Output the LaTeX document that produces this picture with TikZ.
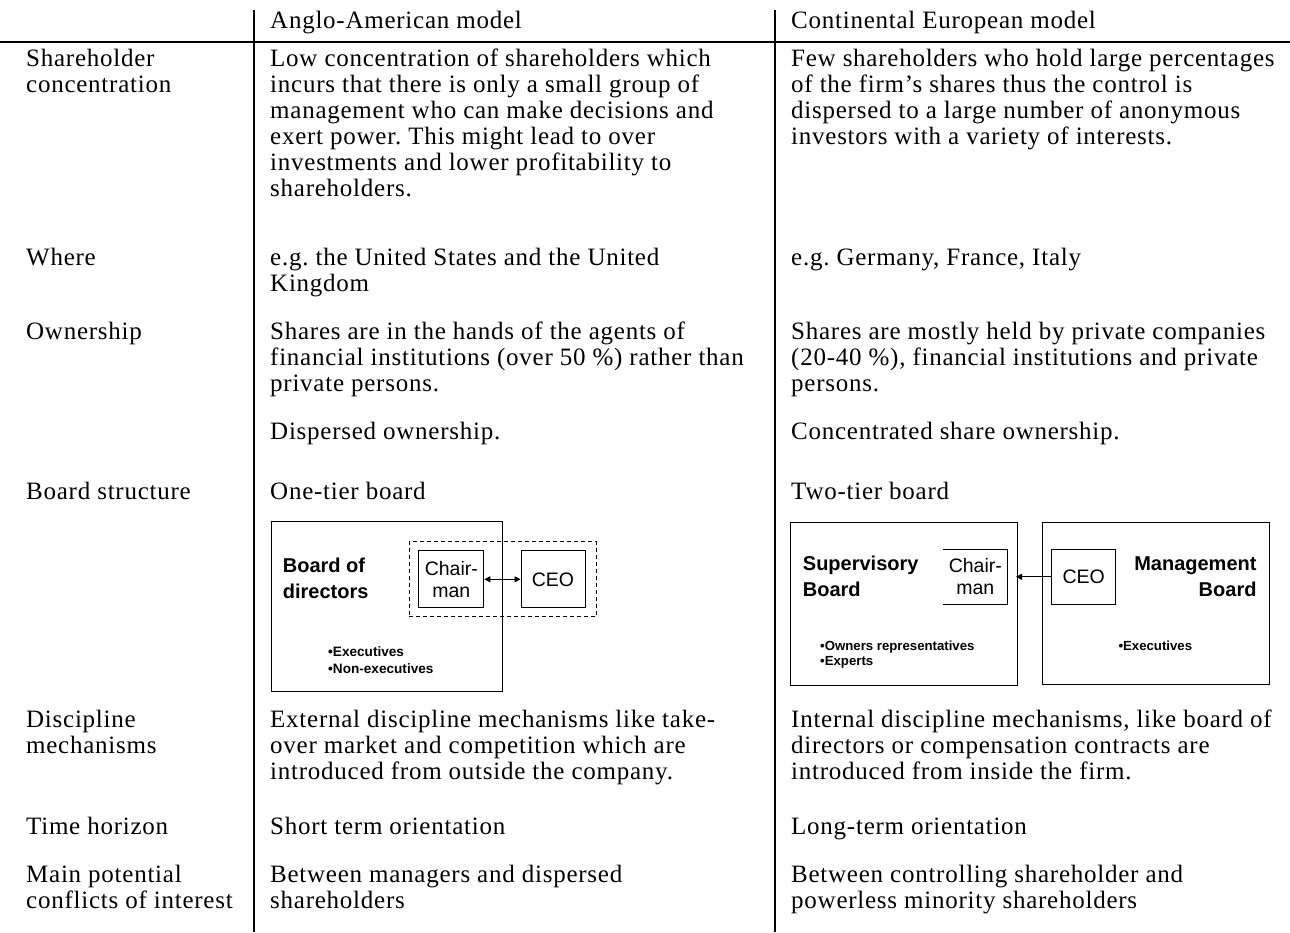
\documentclass[tikz,border=0pt]{standalone}
\usepackage{fontspec}
\setmainfont{Liberation Serif}[LetterSpace=3.0]
\setsansfont{Liberation Sans}
\usetikzlibrary{arrows.meta}
\frenchspacing

% Multi-line nodes sit on the baseline of their last line.
\tikzset{
  rule/.style={line width=2pt},
  cell/.style={anchor=base west, inner sep=0pt, align=left,
    font=\fontsize{25}{26}\selectfont},
  boxline/.style={draw, line width=1pt, inner sep=0pt},
  boardtitle/.style={inner sep=0pt, align=left,
    font=\sffamily\bfseries\fontsize{20}{26}\selectfont},
  boxlabel/.style={inner sep=0pt, align=center,
    font=\sffamily\fontsize{19.5}{22}\selectfont},
  members/.style={anchor=base west, inner sep=0pt, align=left,
    font=\sffamily\bfseries\fontsize{13.6}{17}\selectfont},
  link/.style={line width=1pt, arrows={-Triangle[length=6pt, width=6pt]}},
}

\begin{document}
\begin{tikzpicture}[x=1pt, y=-1pt]
\useasboundingbox (0,0) rectangle (1290,932);

% table rules
\coordinate (hl) at (0,42);
\coordinate (hr) at (1290,42);
\coordinate (v1t) at (254,10);
\coordinate (v1b) at (254,932);
\coordinate (v2t) at (775,10);
\coordinate (v2b) at (775,932);
\draw[rule] (hl) -- (hr);
\draw[rule] (v1t) -- (v1b);
\draw[rule] (v2t) -- (v2b);

% header
\node[cell] (hA) at (270,28) {Anglo-American model};
\node[cell] (hC) at (791,28) {Continental European model};

% row labels
\node[cell] (r1) at (26,92) {Shareholder\\concentration};
\node[cell] (r2) at (26,265) {Where};
\node[cell] (r3) at (26,339) {Ownership};
\node[cell] (r4) at (26,499) {Board structure};
\node[cell] (r5) at (26,753) {Discipline\\mechanisms};
\node[cell] (r6) at (26,834) {Time horizon};
\node[cell] (r7) at (26,908) {Main potential\\conflicts of interest};

% Anglo-American column
\node[cell] (a1) at (270,196) {Low concentration of shareholders which\\incurs that there is only a small group of\\management who can make decisions and\\exert power. This might lead to over\\investments and lower profitability to\\shareholders.};
\node[cell] (a2) at (270,291) {e.g. the United States and the United\\Kingdom};
\node[cell] (a3) at (270,391) {Shares are in the hands of the agents of\\financial institutions (over 50 \%) rather than\\private persons.};
\node[cell] (a3b) at (270,439) {Dispersed ownership.};
\node[cell] (a4) at (270,499) {One-tier board};
\node[cell] (a5) at (270,779) {External discipline mechanisms like take-\\over market and competition which are\\introduced from outside the company.};
\node[cell] (a6) at (270,834) {Short term orientation};
\node[cell] (a7) at (270,908) {Between managers and dispersed\\shareholders};

% Continental European column
\node[cell] (c1) at (791,144) {Few shareholders who hold large percentages\\of the firm’s shares thus the control is\\dispersed to a large number of anonymous\\investors with a variety of interests.};
\node[cell] (c2) at (791,265) {e.g. Germany, France, Italy};
\node[cell] (c3) at (791,391) {Shares are mostly held by private companies\\(20-40 \%), financial institutions and private\\persons.};
\node[cell] (c3b) at (791,439) {Concentrated share ownership.};
\node[cell] (c4) at (791,499) {Two-tier board};
\node[cell] (c5) at (791,779) {Internal discipline mechanisms, like board of\\directors or compensation contracts are\\introduced from inside the firm.};
\node[cell] (c6) at (791,834) {Long-term orientation};
\node[cell] (c7) at (791,908) {Between controlling shareholder and\\powerless minority shareholders};

% one-tier board
\node[boxline, minimum width=231pt, minimum height=170pt] (bod) at (387.2,606) {};
\node[draw, line width=1pt, dash pattern=on 4pt off 3pt, inner sep=0pt,
      minimum width=187pt, minimum height=75pt] (duo) at (502.5,579.2) {};
\node[boxline, fill=white, minimum width=65pt, minimum height=57pt] (chairL) at (451.3,579.3) {};
\node[boxline, fill=white, minimum width=64pt, minimum height=57pt] (ceoL) at (553,579.3) {};
\node[boxlabel] (chairLt) at (chairL) {Chair-\\man};
\node[boxlabel] (ceoLt) at (ceoL) {CEO};
\node[boardtitle, anchor=base west] (bodt) at (282.7,598) {Board of\\directors};
\node[members] (bodm) at (328,673) {•Executives\\•Non-executives};
\draw[link, arrows={Triangle[length=6pt, width=6pt]-Triangle[length=6pt, width=6pt]}] (chairL.east) -- (ceoL.west);

% two-tier board
\node[boxline, minimum width=227pt, minimum height=163pt] (sup) at (903.7,604.3) {};
\node[boxline, minimum width=227pt, minimum height=162pt] (mgmt) at (1155.7,603.8) {};
\node[inner sep=0pt, minimum width=64pt, minimum height=55pt] (chairR) at (975.3,576.8) {};
\draw[line width=1pt] (chairR.north west) -- (chairR.north east) -- (chairR.south east) -- (chairR.south west);
\node[boxlabel] (chairRt) at (chairR) {Chair-\\man};
\node[boxline, minimum width=64pt, minimum height=55pt] (ceoR) at (1083.7,576.8) {};
\node[boxlabel] (ceoRt) at (ceoR) {CEO};
\node[boardtitle, anchor=base west] (supt) at (802.7,596.7) {Supervisory\\Board};
\node[boardtitle, anchor=base east, align=right] (mgmtt) at (1256.7,596.7) {Management\\Board};
\node[members, font=\sffamily\bfseries\fontsize{13.2}{15}\selectfont] (supm) at (820,665) {•Owners representatives\\•Experts};
\node[members, font=\sffamily\bfseries\fontsize{13.2}{15}\selectfont] (mgmtm) at (1118.3,650) {•Executives};
\coordinate (tipR) at ([xshift=8.5pt]chairR.east);
\draw[link] (ceoR.west) -- (tipR);

\end{tikzpicture}
\end{document}
